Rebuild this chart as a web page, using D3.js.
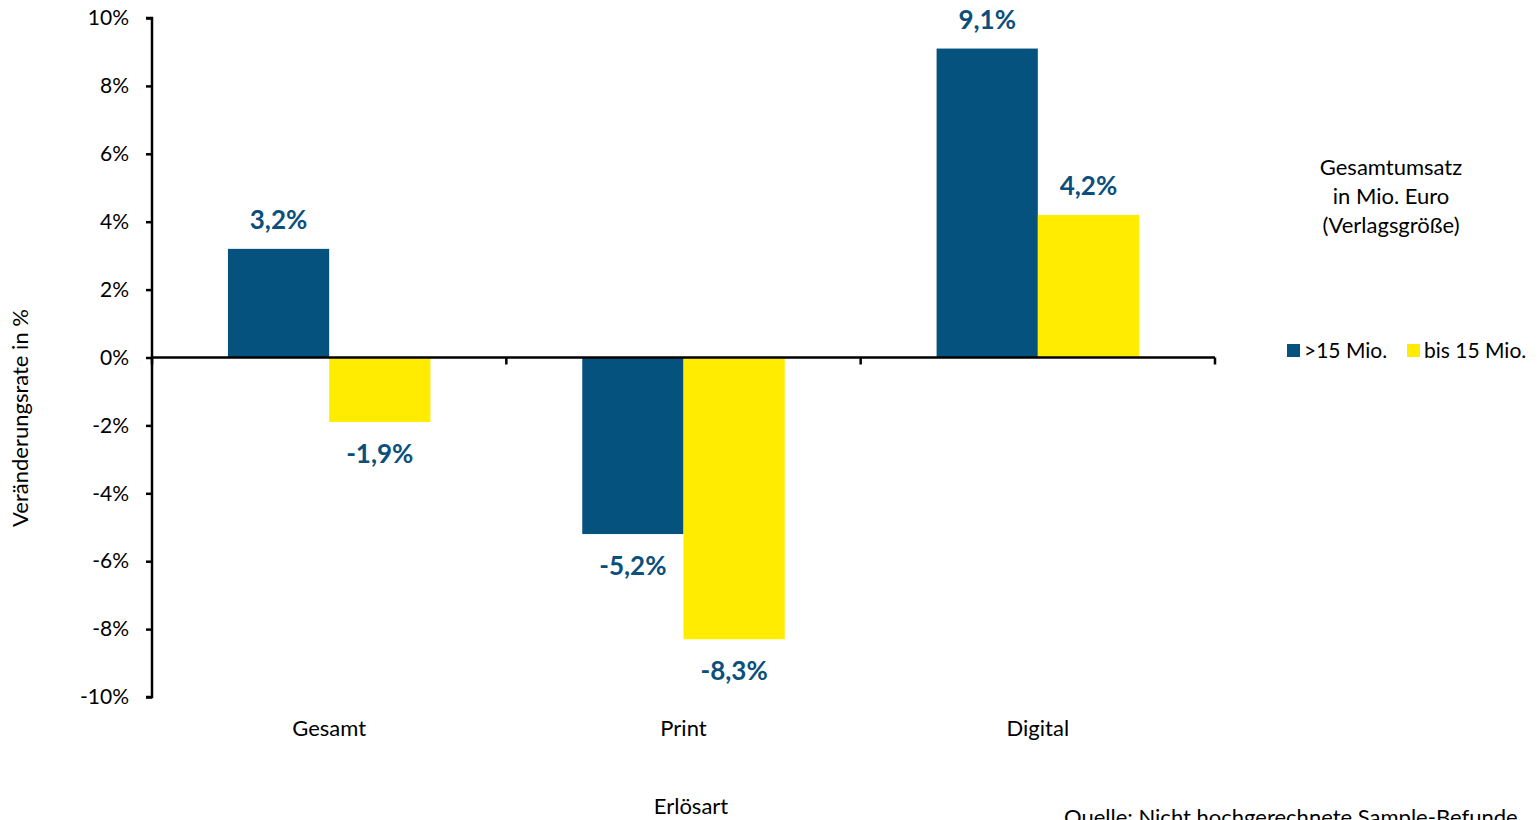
<!DOCTYPE html>
<html>
<head>
<meta charset="utf-8">
<script src="https://cdn.jsdelivr.net/npm/d3@7"></script>
<style>
  body { margin: 0; background: #fff; }
  svg { font-family: Lato, "Open Sans", sans-serif; }
</style>
</head>
<body>
<svg width="1539" height="820"></svg>
<script>
// chart data
var categories = ["Gesamt", "Print", "Digital"];
var seriesNames = [">15 Mio.", "bis 15 Mio."];
var bigPublishers = [3.2, -5.2, 9.1];
var smallPublishers = [-1.9, -8.3, 4.2];
var yTicks = [-10, -8, -6, -4, -2, 0, 2, 4, 6, 8, 10];

var colours = ["#06527f", "#ffec00"];
var labelColour = "#0b4f7c";

var svg = d3.select("svg");

var x = d3.scaleBand().domain(categories).range([152, 1215]).paddingInner(0).paddingOuter(0);
var xInner = d3.scaleBand().domain(seriesNames).range([0, x.bandwidth()]).paddingInner(0).paddingOuter(0.75);
var y = d3.scaleLinear().domain([-10, 10]).range([697, 18]);

// rows for the bars
var rows = [];
categories.forEach(function(c, i) {
  rows.push({cat: c, ser: seriesNames[0], v: bigPublishers[i], col: colours[0]});
  rows.push({cat: c, ser: seriesNames[1], v: smallPublishers[i], col: colours[1]});
});

svg.selectAll("rect.bar")
  .data(rows)
  .enter()
  .append("rect")
  .attr("class", "bar")
  .attr("x", function(d) { return x(d.cat) + xInner(d.ser); })
  .attr("width", xInner.bandwidth())
  .attr("y", function(d) { return y(Math.max(0, d.v)); })
  .attr("height", function(d) { return Math.abs(y(d.v) - y(0)); })
  .attr("fill", function(d) { return d.col; });

// value labels
svg.selectAll("text.val")
  .data(rows)
  .enter()
  .append("text")
  .attr("class", "val")
  .attr("x", function(d) { return x(d.cat) + xInner(d.ser) + xInner.bandwidth() / 2; })
  .attr("y", function(d) { return d.v >= 0 ? y(d.v) - 20 : y(d.v) + 41; })
  .attr("text-anchor", "middle")
  .attr("font-size", 26)
  .attr("font-weight", "bold")
  .attr("fill", labelColour)
  .text(function(d) { return d.v.toFixed(1).replace(".", ",") + "%"; });

// y axis
var yAxis = d3.axisLeft(y).tickValues(yTicks).tickSize(6).tickPadding(17)
  .tickFormat(function(d) { return d + "%"; });
var gy = svg.append("g").attr("transform", "translate(152,0)").call(yAxis);
gy.select(".domain").attr("stroke", "#000").attr("stroke-width", 2.5).attr("d", "M-6,18H0V697H-6");
gy.selectAll(".tick line").attr("stroke", "#000").attr("stroke-width", 2.5);
gy.selectAll(".tick text").attr("font-size", 21).attr("fill", "#000").attr("font-family", "Lato, sans-serif");

// x axis at zero
var xAxis = d3.axisBottom(x).tickSize(0).tickFormat("");
var gx = svg.append("g").attr("transform", "translate(0," + y(0) + ")").call(xAxis);
gx.select(".domain").attr("stroke", "#000").attr("stroke-width", 2.5).attr("d", "M152,0H1215");
var bounds = [0, 1, 2, 3].map(function(i) { return i < 3 ? x(categories[i]) : x(categories[2]) + x.bandwidth(); });
gx.selectAll("line.sep")
  .data(bounds)
  .enter()
  .append("line")
  .attr("x1", function(d) { return d; })
  .attr("x2", function(d) { return d; })
  .attr("y1", 0)
  .attr("y2", 7)
  .attr("stroke", "#000")
  .attr("stroke-width", 2.5);

// category labels at bottom
svg.selectAll("text.cat")
  .data(categories)
  .enter()
  .append("text")
  .attr("class", "cat")
  .attr("x", function(d) { return x(d) + x.bandwidth() / 2; })
  .attr("y", 736)
  .attr("text-anchor", "middle")
  .attr("font-size", 22)
  .text(function(d) { return d; });

// axis titles
svg.append("text")
  .attr("transform", "translate(28,418) rotate(-90)")
  .attr("text-anchor", "middle")
  .attr("font-size", 22)
  .text("Veränderungsrate in %");

svg.append("text")
  .attr("x", 691)
  .attr("y", 814)
  .attr("text-anchor", "middle")
  .attr("font-size", 22)
  .text("Erlösart");

svg.append("text")
  .attr("x", 1064)
  .attr("y", 825)
  .attr("font-size", 22)
  .text("Quelle: Nicht hochgerechnete Sample-Befunde");

// legend
var legendTitle = ["Gesamtumsatz", "in Mio. Euro", "(Verlagsgröße)"];
svg.selectAll("text.lt")
  .data(legendTitle)
  .enter()
  .append("text")
  .attr("class", "lt")
  .attr("x", 1391)
  .attr("y", function(d, i) { return 175 + i * 29; })
  .attr("text-anchor", "middle")
  .attr("font-size", 22)
  .text(function(d) { return d; });

var legendX = [1287, 1407];
var lg = svg.selectAll("g.leg")
  .data(seriesNames)
  .enter()
  .append("g")
  .attr("class", "leg")
  .attr("transform", function(d, i) { return "translate(" + legendX[i] + ",344)"; });
lg.append("rect").attr("width", 13).attr("height", 13).attr("fill", function(d, i) { return colours[i]; });
lg.append("text").attr("x", 17).attr("y", 14).attr("font-size", 21).text(function(d) { return d; });
</script>
</body>
</html>
